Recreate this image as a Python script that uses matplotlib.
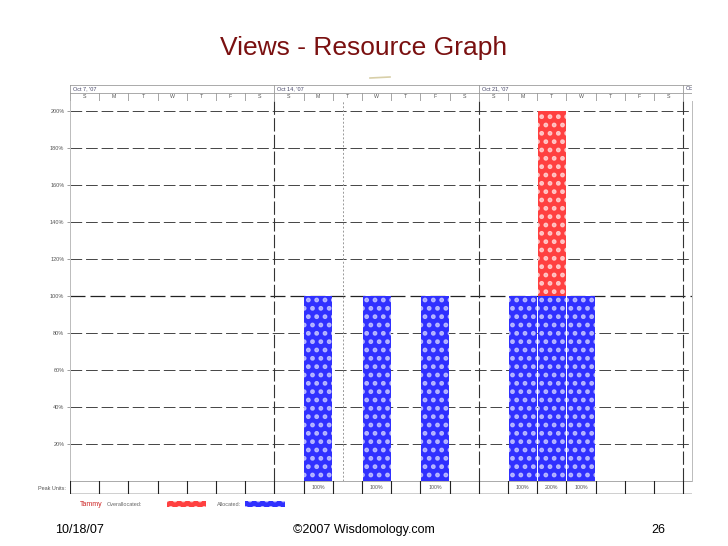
import matplotlib
matplotlib.use('Agg')
import matplotlib.pyplot as plt
import numpy as np

plt.rcParams['font.family'] = ['Liberation Sans', 'DejaVu Sans']
plt.rcParams['hatch.linewidth'] = 2.2

# data: one resource (Tammy), three weeks starting Sun Oct 7 '07
week_labels = ["Oct 7, '07", "Oct 14, '07", "Oct 21, '07", "Oct"]
day_letters = ['S', 'M', 'T', 'W', 'T', 'F', 'S']
alloc_days = [8, 10, 12, 15, 16, 17]          # day index from Oct 7
alloc_units = [100, 100, 100, 100, 200, 100]  # peak units in %
y_ticks = [20, 40, 60, 80, 100, 120, 140, 160, 180, 200]
status_date = 9.35

xmax = 21.3
fig = plt.figure(figsize=(7.28, 5.46), dpi=100)

blue = '#3030ff'
blue_dot = '#b8b8ff'
red = '#ff4040'
red_dot = '#ffc8c8'


def textured_bar(a, x, h, bottom, face, dot, width=1):
    a.bar(x, h, bottom=bottom, width=width, align='edge', color=face, lw=0, zorder=2)
    a.bar(x, h, bottom=bottom, width=width, align='edge', fill=False, edgecolor=dot,
          lw=0, hatch='..', zorder=3)


# main graph
ax = fig.add_axes([70/728, 1-481/546, 622/728, 380/546])
ax.set_xlim(0, xmax)
ax.set_ylim(0, 205.4)

for y in y_ticks:
    ax.axhline(y, color='#222222' if y == 100 else '#444444', lw=0.9 if y == 100 else 0.7,
               ls=(0, (12, 4)), zorder=1)
for w in [7, 14, 21]:
    ax.axvline(w, color='#333333', lw=0.8, ls=(0, (12, 3)), zorder=1)
ax.axvline(status_date, color='#999999', lw=0.7, ls=(0, (2, 2)), zorder=1)

days = np.array(alloc_days)
units = np.array(alloc_units)
alloc = np.minimum(units, 100)
over = units - alloc
textured_bar(ax, days + 0.02, alloc, 0, blue, blue_dot, width=0.96)
m = over > 0
textured_bar(ax, days[m] + 0.02, over[m], alloc[m], red, red_dot, width=0.96)

ax.set_xticks([])
ax.set_yticks(y_ticks)
ax.set_yticklabels([f'{y}%' for y in y_ticks], fontsize=4, color='#555555')
ax.tick_params(axis='y', length=2, width=0.5, color='#777777', pad=2)
for s in ['top', 'bottom']:
    ax.spines[s].set_visible(False)
for s in ['left', 'right']:
    ax.spines[s].set_color('#bbbbbb')
    ax.spines[s].set_linewidth(0.7)

# timescale header
hx = fig.add_axes([70/728, 1-101/546, 622/728, 16/546])
hx.set_xlim(0, xmax)
hx.set_ylim(0, 2)
hx.axis('off')
hx.plot([0, xmax], [2, 2], color='#aaaaaa', lw=0.7)
hx.plot([0, xmax], [1, 1], color='#aaaaaa', lw=0.7)
hx.plot([0, xmax], [0, 0], color='#aaaaaa', lw=0.7)
for i in range(22):
    top = 2 if i % 7 == 0 else 1
    hx.plot([i, i], [0, top], color='#999999', lw=0.6)
for k, lab in enumerate(week_labels):
    hx.text(7*k + 0.1, 1.5, lab, fontsize=4, color='#444466', va='center', ha='left',
            clip_on=True)
for i in range(21):
    hx.text(i + 0.5, 0.5, day_letters[i % 7], fontsize=3.8, color='#555555',
            ha='center', va='center')

# peak units row
px = fig.add_axes([70/728, 1-494/546, 622/728, 13/546])
px.set_xlim(0, xmax)
px.set_ylim(0, 1)
px.axis('off')
px.plot([0, xmax], [1, 1], color='#aaaaaa', lw=0.7)
px.plot([0, xmax], [0, 0], color='#111111', lw=1.0)
for i in range(22):
    px.plot([i, i], [0, 1], color='#222222', lw=0.8)
for d, u in zip(alloc_days, alloc_units):
    px.text(d + 0.5, 0.5, f'{u}%', fontsize=3.8, color='#555555', ha='center', va='center')
fig.text(66/728, 1-488/546, 'Peak Units:', fontsize=4, color='#555555', ha='right', va='center')

# legend
fig.text(80/728, 1-504/546, 'Tammy', fontsize=5, color='#cc2222', va='center')
fig.text(107/728, 1-504/546, 'Overallocated:', fontsize=4, color='#666666', va='center')
lg1 = fig.add_axes([167/728, 1-507/546, 39/728, 6/546])
lg1.axis('off')
textured_bar(lg1, [0], [1], 0, red, red_dot)
lg1.set_xlim(0, 1); lg1.set_ylim(0, 1)
fig.text(217/728, 1-504/546, 'Allocated:', fontsize=4, color='#666666', va='center')
lg2 = fig.add_axes([245/728, 1-507/546, 40/728, 6/546])
lg2.axis('off')
textured_bar(lg2, [0], [1], 0, blue, blue_dot)
lg2.set_xlim(0, 1); lg2.set_ylim(0, 1)

# slide title and footer
fig.text(364/728, 1-48/546, 'Views - Resource Graph', fontsize=19, color='#7a1010',
         ha='center', va='center')
fig.add_artist(plt.Line2D([370/728, 390/728], [1-78/546, 1-77/546], color='#d8cfa8', lw=1.2))
fig.text(55/728, 1-530/546, '10/18/07', fontsize=9, ha='left', va='center')
fig.text(364/728, 1-530/546, '\u00a92007 Wisdomology.com', fontsize=9, ha='center', va='center')
fig.text(665/728, 1-530/546, '26', fontsize=9, ha='right', va='center')

fig.savefig('out.png', dpi=100)
